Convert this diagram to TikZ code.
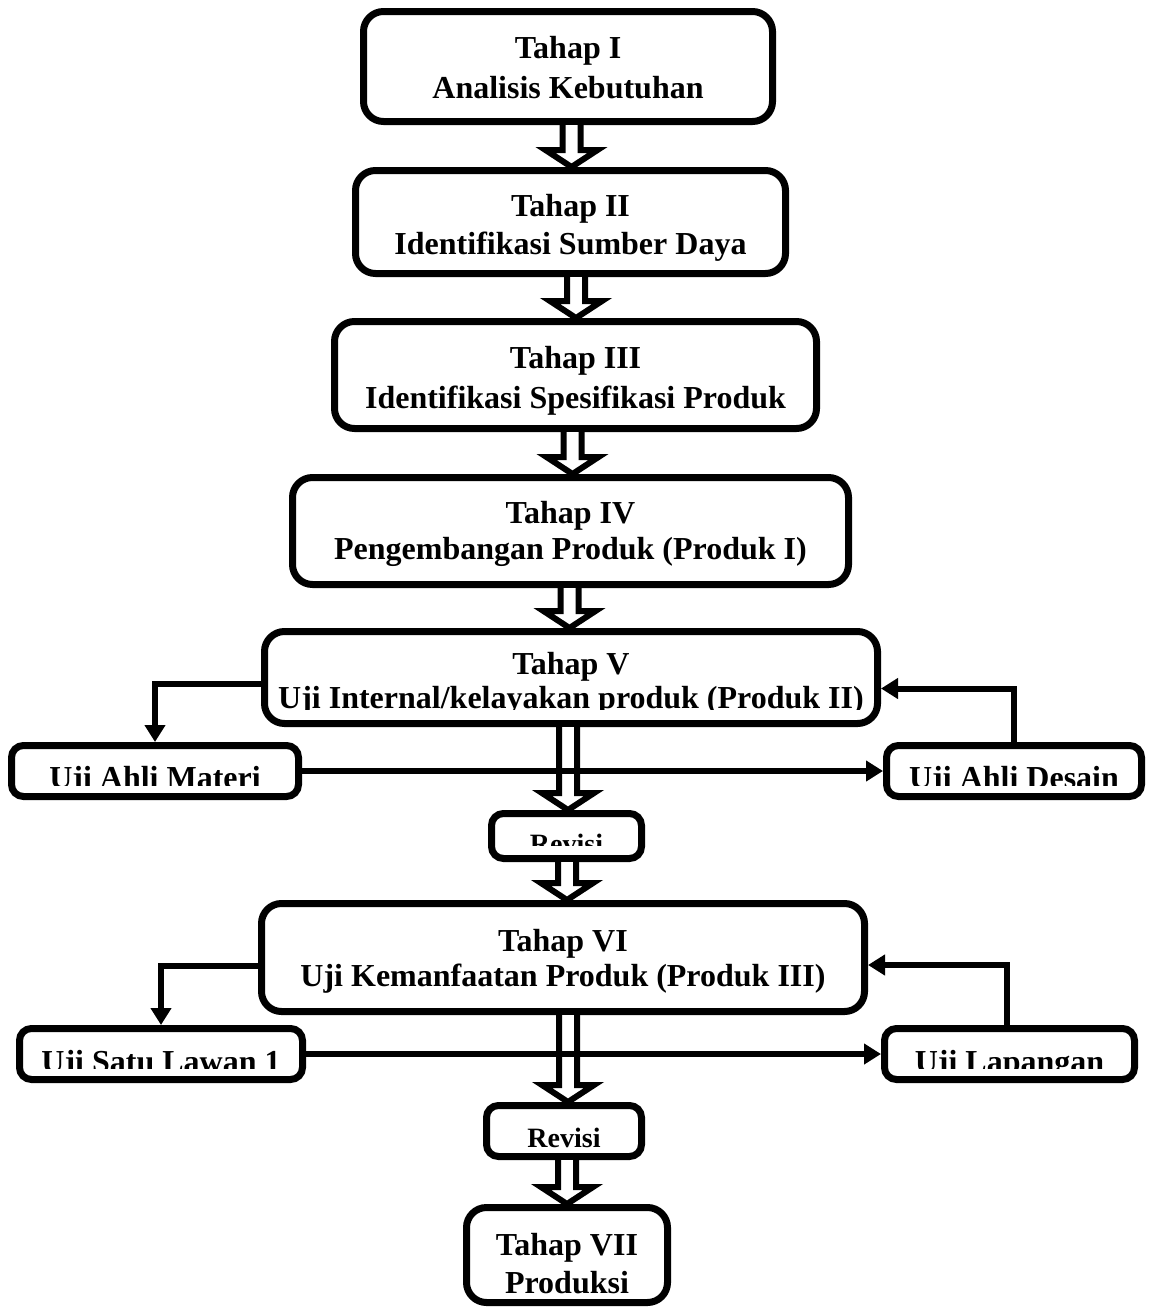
\documentclass[tikz,border=0pt]{standalone}
\usepackage{fontspec}
\setmainfont{Liberation Serif}
\usetikzlibrary{arrows.meta,calc}
\tikzset{
  box/.style={draw, line width=7pt, rounded corners=20pt, inner sep=0pt, outer sep=3.5pt},
  sbox/.style={box, rounded corners=12pt},
  txt/.style={inner sep=0pt, anchor=base, font=\fontsize{32}{38}\selectfont\bfseries},
  rtxt/.style={inner sep=0pt, anchor=base, font=\fontsize{28}{34}\selectfont\bfseries},
  conn/.style={line width=6pt, -{Triangle[length=17pt,width=20pt]}},
  hollow/.style={line width=6pt, draw=black, fill=white, line join=miter},
}
\newcommand{\hollowarrow}[3]{%
  \draw[hollow] let \p1=(#1.south), \p2=(#2.north) in
    (#3pt-9pt,\y1) -- (#3pt-9pt,\y2+17pt) -- (#3pt-26pt,\y2+17pt) --
    (#3pt,\y2) -- (#3pt+26pt,\y2+17pt) -- (#3pt+9pt,\y2+17pt) -- (#3pt+9pt,\y1);}
\begin{document}
\begin{tikzpicture}[x=1pt,y=-1pt]
\useasboundingbox (0,0) rectangle (1149,1309);
\fill[white] (0,0) rectangle (1149,1309);
% boxes
\node[box, minimum width=409, minimum height=110] (B1) at (568,66.5) {};
\node[box, minimum width=430, minimum height=103] (B2) at (570.5,222) {};
\node[box, minimum width=482, minimum height=107] (B3) at (575.5,375) {};
\node[box, minimum width=556, minimum height=107] (B4) at (570.5,531) {};
\node[box, minimum width=613, minimum height=92] (B5) at (571,677.5) {};
\node[sbox, minimum width=287, minimum height=51] (M) at (155,771) {};
\node[sbox, minimum width=255, minimum height=51] (D) at (1014,771) {};
\node[sbox, minimum width=150, minimum height=45] (R1) at (566.5,836) {};
\node[box, minimum width=603, minimum height=108] (B6) at (563,957.5) {};
\node[sbox, minimum width=283, minimum height=51] (S) at (161,1054) {};
\node[sbox, minimum width=250, minimum height=51] (L) at (1009.5,1054) {};
\node[sbox, minimum width=155, minimum height=51] (R2) at (564,1131) {};
\node[box, minimum width=201, minimum height=95] (B7) at (567,1255) {};
% hollow arrows
\hollowarrow{B1}{B2}{571.5}
\hollowarrow{B2}{B3}{576}
\hollowarrow{B3}{B4}{572.5}
\hollowarrow{B4}{B5}{569.5}
\hollowarrow{B5}{R1}{568}
\hollowarrow{R1}{B6}{567}
\hollowarrow{B6}{R2}{568}
\hollowarrow{R2}{B7}{567}
% connectors
\draw[conn] ([yshift=-6pt]B5.west) -| (M.north);
\draw[conn] (M.east) -- (D.west);
\draw[conn] (D.north) |- ([yshift=-11pt]B5.east);
\draw[conn] ([yshift=-8.5pt]B6.west) -| (S.north);
\draw[conn] (S.east) -- (L.west);
\draw[conn] ([xshift=-3pt]L.north) |- ([yshift=-7.5pt]B6.east);
% texts
\node[txt] (t1a) at (568,58) {Tahap I};
\node[txt] (t1b) at (568,98) {Analisis Kebutuhan};
\node[txt] (t2a) at (570.5,216) {Tahap II};
\node[txt] (t2b) at (570.5,254) {Identifikasi Sumber Daya};
\node[txt] (t3a) at (575.5,368) {Tahap III};
\node[txt] (t3b) at (575.5,408) {Identifikasi Spesifikasi Produk};
\node[txt] (t4a) at (570.5,523) {Tahap IV};
\node[txt] (t4b) at (570.5,559) {Pengembangan Produk (Produk I)};
\begin{scope}
  \clip (200,600) rectangle (950,709);
  \node[txt] (t5a) at (571,674) {Tahap V};
  \node[txt] (t5b) at (571,708) {Uji Internal/kelayakan produk (Produk II)};
\end{scope}
\begin{scope}
  \clip (0,740) rectangle (1149,785.5);
  \node[txt] (tm) at (155,788) {Uji Ahli Materi};
  \node[txt] (td) at (1014,788) {Uji Ahli Desain};
\end{scope}
\begin{scope}
  \clip (480,815) rectangle (660,845);
  \node[rtxt] (tr1) at (566.5,853.5) {Revisi};
\end{scope}
\node[txt] (t6a) at (563,951) {Tahap VI};
\node[txt] (t6b) at (563,986) {Uji Kemanfaatan Produk (Produk III)};
\begin{scope}
  \clip (0,1030) rectangle (1149,1068.5);
  \node[txt] (ts) at (161,1072) {Uji Satu Lawan 1};
  \node[txt] (tl) at (1009.5,1072) {Uji Lapangan};
\end{scope}
\node[rtxt] (tr2) at (564,1147) {Revisi};
\node[txt] (t7a) at (567,1255) {Tahap VII};
\node[txt] (t7b) at (567,1293) {Produksi};
\end{tikzpicture}
\end{document}
